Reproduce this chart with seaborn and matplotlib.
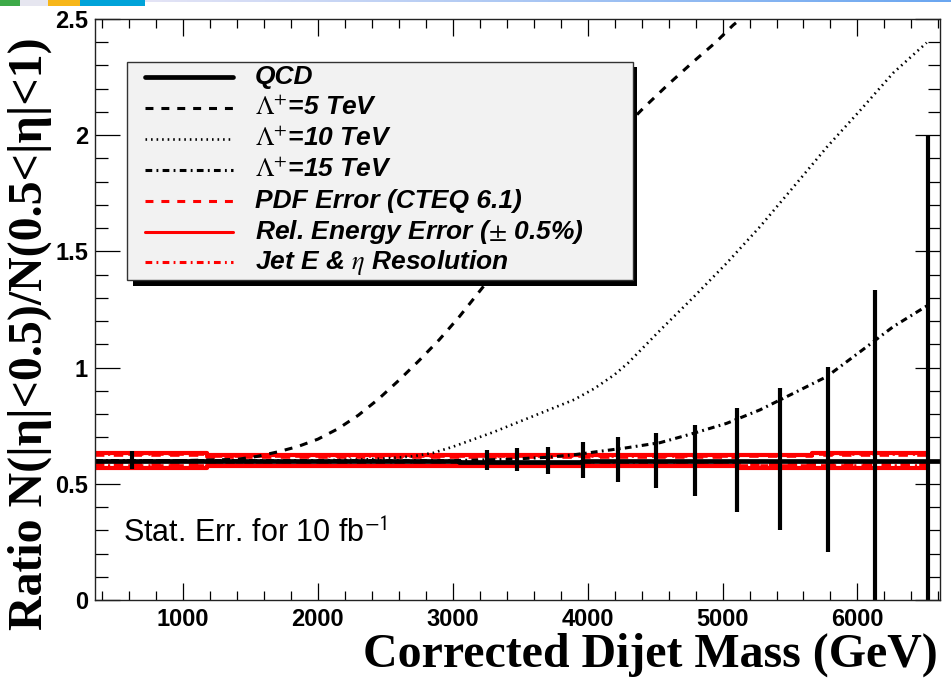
import numpy as np
import seaborn as sns
import matplotlib
matplotlib.use("Agg")
import matplotlib.pyplot as plt
from matplotlib.patches import Rectangle
from matplotlib.lines import Line2D
from matplotlib.ticker import MultipleLocator

# QCD ratio as a step histogram (bin edges, one value per bin)
qcd_edges = [348, 3050, 3960, 6612]
qcd_ratio = [0.598, 0.593, 0.596]

# statistical errors for 10 fb-1
bar_mass = [620, 3256, 3474, 3708, 3963, 4227, 4504, 4796, 5105, 5429, 5784, 6130, 6525]
bar_ratio = [0.602, 0.603, 0.604, 0.601, 0.604, 0.605, 0.601, 0.601, 0.603, 0.606, 0.605, 0.600, 0.600]
bar_err = [0.040, 0.042, 0.049, 0.059, 0.077, 0.096, 0.119, 0.152, 0.224, 0.306, 0.398, 0.734, 1.400]

# contact interaction curves
lam5_mass = [348, 1000, 1400, 1550, 1700, 1850, 2000, 2150, 2300, 2450, 2600, 2750, 2900,
             3050, 3226, 3400, 3600, 3800, 4000, 4200, 4412, 4600, 4783, 4950, 5079, 5200]
lam5_ratio = [0.600, 0.600, 0.605, 0.618, 0.637, 0.660, 0.692, 0.737, 0.795, 0.865, 0.945, 1.030, 1.120,
              1.220, 1.348, 1.470, 1.600, 1.730, 1.860, 1.990, 2.116, 2.220, 2.316, 2.400, 2.474, 2.530]

lam10_mass = [348, 2000, 2300, 2500, 2700, 2855, 3004, 3300, 3600, 3900, 4050, 4200, 4300,
              4536, 4783, 5030, 5277, 5524, 5772, 6019, 6265, 6513]
lam10_ratio = [0.600, 0.601, 0.604, 0.609, 0.618, 0.633, 0.660, 0.722, 0.792, 0.862, 0.910, 0.970, 1.020,
               1.160, 1.302, 1.449, 1.606, 1.776, 1.948, 2.106, 2.268, 2.398]

lam15_mass = [348, 3000, 3400, 3700, 3900, 4067, 4289, 4537, 4783, 5030, 5277, 5524, 5772, 6019, 6265, 6513]
lam15_ratio = [0.600, 0.600, 0.605, 0.614, 0.625, 0.638, 0.655, 0.677, 0.717, 0.760, 0.818, 0.889,
               0.961, 1.068, 1.176, 1.265]

# systematic bands (upper / lower envelopes per mass region)
band_edges = [348, 1180, 3960, 5105, 5660, 6515]
energy_up = [0.632, 0.622, 0.626, 0.626, 0.632]
energy_dn = [0.570, 0.578, 0.578, 0.570, 0.570]
pdf_up = [0.622, 0.614, 0.617, 0.618, 0.622]
pdf_dn = [0.580, 0.586, 0.586, 0.580, 0.580]
res_up = [0.627, 0.618, 0.621, 0.622, 0.627]
res_dn = [0.575, 0.582, 0.582, 0.575, 0.575]

xticks = [1000, 2000, 3000, 4000, 5000, 6000]
xtick_labels = ["1000", "2000", "3000", "4000", "5000", "6000"]
yticks = [0, 0.5, 1, 1.5, 2, 2.5]
ytick_labels = ["0", "0.5", "1", "1.5", "2", "2.5"]

legend_labels = ["QCD", r"$\Lambda^{+}$=5 TeV", r"$\Lambda^{+}$=10 TeV", r"$\Lambda^{+}$=15 TeV",
                 "PDF Error (CTEQ 6.1)", r"Rel. Energy Error ($\pm$ 0.5%)", r"Jet E & $\eta$ Resolution"]

sns.set_theme(style="ticks")
plt.rcParams["font.family"] = ["Liberation Sans", "DejaVu Sans"]
plt.rcParams["mathtext.fontset"] = "stix"
plt.rcParams["text.color"] = "black"
plt.rcParams["xtick.color"] = "black"
plt.rcParams["ytick.color"] = "black"

W, H = 951, 683
fig = plt.figure(figsize=(W / 100, H / 100), dpi=100)
fig.patch.set_facecolor("white")


def fx(p):
    return p / W


def fy(p):
    return 1 - p / H


ax = fig.add_axes([fx(95), fy(600), 845 / W, 581 / H])
ax.set_facecolor("white")

dash = (0, (2.6, 2.6))
dot = (0, (0.6, 1.5))
dashdot = (0, (2.2, 1.4, 0.6, 1.4))

# red systematic lines
for up, dn, ls, lw in [(energy_up, energy_dn, "-", 3.0), (res_up, res_dn, dashdot, 2.6),
                       (pdf_up, pdf_dn, dash, 2.6)]:
    for vals in (up, dn):
        sns.lineplot(x=band_edges, y=vals + [vals[-1]], ax=ax, color="red", lw=lw,
                     linestyle=ls, drawstyle="steps-post", legend=False)

# contact interaction curves
sns.lineplot(x=lam5_mass, y=lam5_ratio, ax=ax, color="black", lw=2.2, linestyle=dash, legend=False)
sns.lineplot(x=lam10_mass, y=lam10_ratio, ax=ax, color="black", lw=1.9, linestyle=dot, legend=False)
sns.lineplot(x=lam15_mass, y=lam15_ratio, ax=ax, color="black", lw=2.2, linestyle=dashdot, legend=False)

# QCD
sns.lineplot(x=qcd_edges, y=qcd_ratio + [qcd_ratio[-1]], ax=ax, color="black", lw=3.4,
             drawstyle="steps-post", legend=False)
ax.errorbar(bar_mass, bar_ratio, yerr=bar_err, fmt="none", ecolor="black", elinewidth=3, capsize=0)

ax.set_xlim(348, 6612)
ax.set_ylim(0, 2.5)
ax.set_xticks(xticks)
ax.set_xticklabels(xtick_labels)
ax.set_yticks(yticks)
ax.set_yticklabels(ytick_labels)
ax.xaxis.set_minor_locator(MultipleLocator(200))
ax.yaxis.set_minor_locator(MultipleLocator(0.1))
ax.tick_params(axis="x", which="major", direction="in", length=12.5, width=0.9, top=True, bottom=True, pad=6)
ax.tick_params(axis="x", which="minor", direction="in", length=6.3, width=0.9, top=True, bottom=True)
ax.tick_params(axis="y", which="major", direction="in", length=18, width=0.9, left=True, right=True, pad=5)
ax.tick_params(axis="y", which="minor", direction="in", length=9, width=0.9, left=True, right=True)
for lab in ax.get_xticklabels() + ax.get_yticklabels():
    lab.set_fontweight("bold")
    lab.set_fontsize(17)
    lab.set_color("black")
for sp in ax.spines.values():
    sp.set_linewidth(1.0)
    sp.set_color("#222222")
ax.set_xlabel("")
ax.set_ylabel("")

ax.text(fx(123), fy(542), r"Stat. Err. for 10 fb$^{\mathsf{-1}}$", transform=fig.transFigure,
        fontsize=22, ha="left", va="baseline", color="black")

# axis titles
fig.text(fx(938), fy(667), "Corrected Dijet Mass (GeV)", ha="right", va="baseline",
         family=["Liberation Serif"], fontweight="bold", fontsize=34.5, color="black")
fig.text(fx(30), fy(334), "Ratio N(|η|<0.5)/N(0.5<|η|<1)", ha="center", va="center", rotation=90,
         family=["Liberation Serif"], fontweight="bold", fontsize=34.5, color="black")

# legend box with ROOT style shadow
fig.add_artist(Rectangle((fx(133), fy(286)), (637 - 133) / W, (286 - 67) / H,
                         transform=fig.transFigure, facecolor="black", edgecolor="none", zorder=5))
fig.add_artist(Rectangle((fx(127), fy(280)), (633 - 127) / W, (280 - 62) / H,
                         transform=fig.transFigure, facecolor="#f2f2f2", edgecolor="#333333",
                         lw=1, zorder=6))
leg_styles = [("black", 3.4, "-"), ("black", 2.2, dash), ("black", 1.9, dot), ("black", 2.2, dashdot),
              ("red", 2.2, dash), ("red", 2.2, "-"), ("red", 2.2, dashdot)]
for i, (lab, (c, lw, ls)) in enumerate(zip(legend_labels, leg_styles)):
    yc = 77 + i * 30.9
    fig.add_artist(Line2D([fx(145), fx(233)], [fy(yc), fy(yc)], transform=fig.transFigure,
                          color=c, lw=lw, linestyle=ls, zorder=7))
    fig.text(fx(255), fy(yc), lab, ha="left", va="center", fontsize=19, fontweight="bold",
             fontstyle="italic", color="black", zorder=7)

# slide header strip
for x0, x1, col in [(0, 20, "#3daa48"), (20, 48, "#e6e6f0"), (48, 80, "#f7b619"), (80, 145, "#00a3d9")]:
    fig.add_artist(Rectangle((fx(x0), fy(6)), (x1 - x0) / W, 6 / H, transform=fig.transFigure,
                             facecolor=col, edgecolor="none", zorder=8))
gax = fig.add_axes([fx(145), fy(2.5), 806 / W, 2.5 / H])
gax.imshow(np.linspace(0, 1, 256)[None, :], aspect="auto",
           cmap=matplotlib.colors.LinearSegmentedColormap.from_list("g", ["#e4e4f6", "#6aa6f0"]))
gax.axis("off")

fig.savefig("out.png", dpi=100)
